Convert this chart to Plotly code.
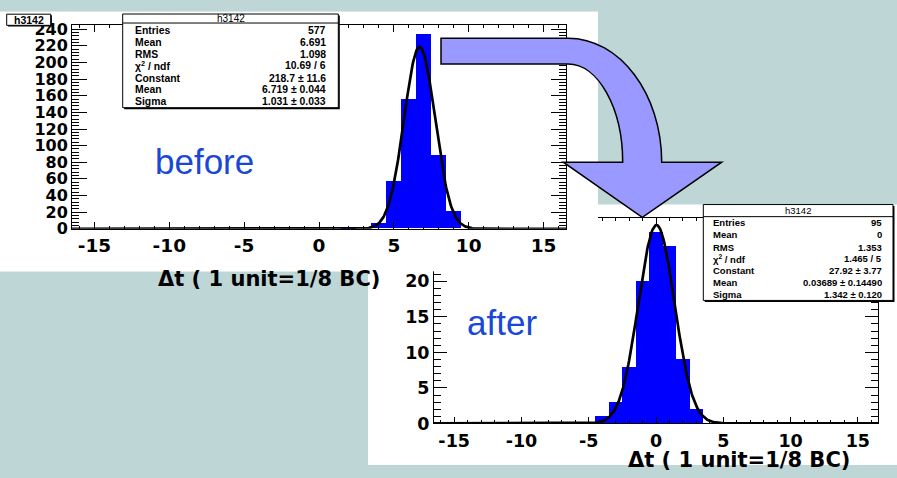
import numpy as np
import plotly.graph_objects as go

# ---------------- data ----------------
before_bins = [2, 4, 5, 6, 7, 8, 9]
before_counts = [2, 6, 57, 156, 234, 88, 21]
after_bins = [-4, -3, -2, -1, 0, 1, 2, 3]
after_counts = [1, 3, 8, 20, 27, 25, 9, 2]

# Gaussian fit parameters (Constant, Mean, Sigma) from the stats boxes
before_fit = [218.7, 6.719, 1.031]
after_fit = [27.92, 0.03689, 1.342]

x_range = [-16.5, 16.5]
x_tick_vals = [-15, -10, -5, 0, 5, 10, 15]
x_tick_text = ["-15", "-10", "-5", "0", "5", "10", "15"]
before_y_tick_step = 20
after_y_tick_step = 5

stat_labels = ["Entries", "Mean", "RMS", "χ<sup>2</sup> / ndf", "Constant", "Mean", "Sigma"]
before_stat_values = ["577", "6.691", "1.098", "10.69 / 6", "218.7 ± 11.6", "6.719 ± 0.044", "1.031 ± 0.033"]
after_stat_values = ["95", "0", "1.353", "1.465 / 5", "27.92 ± 3.77", "0.03689 ± 0.14490", "1.342 ± 0.120"]
hist_name = "h3142"
axis_title = "Δt ( 1 unit=1/8 BC)"

# ---------------- layout helpers ----------------
W, H = 897, 478
TEAL = "#bed6d6"
BLUE_TXT = "#1a48d6"
ARROW = "#9999ff"


def X(p):
    return p / W


def Y(p):
    return 1 - p / H


def gauss(x, c, m, s):
    return c * np.exp(-0.5 * ((x - m) / s) ** 2)


xs = np.linspace(x_range[0], x_range[1], 661)

fig = go.Figure()
# bottom ("after") histogram -> x/y (drawn first, lowest)
fig.add_trace(go.Bar(x=after_bins, y=after_counts, width=1, marker=dict(color="#0000ff", line=dict(width=0)),
                     xaxis="x", yaxis="y", showlegend=False, hoverinfo="skip"))
fig.add_trace(go.Scatter(x=xs, y=gauss(xs, *after_fit), mode="lines", line=dict(color="black", width=2.7),
                         xaxis="x", yaxis="y", showlegend=False, hoverinfo="skip"))
# white cover of the top picture -> x2/y2 (hides part of the bottom frame)
fig.add_trace(go.Scatter(x=[], y=[], mode="markers", xaxis="x2", yaxis="y2", showlegend=False, hoverinfo="skip"))
# top ("before") histogram -> x3/y3 (drawn last)
fig.add_trace(go.Bar(x=before_bins, y=before_counts, width=1, marker=dict(color="#0000ff", line=dict(width=0)),
                     xaxis="x3", yaxis="y3", showlegend=False, hoverinfo="skip"))
fig.add_trace(go.Scatter(x=xs, y=gauss(xs, *before_fit), mode="lines", line=dict(color="black", width=2.7),
                         xaxis="x3", yaxis="y3", showlegend=False, hoverinfo="skip"))


def axis(domain, rng, ticklen, fsize, anchor, dtick=None, mdtick=1, standoff=None):
    d = dict(domain=domain, range=rng, ticks="inside", ticklen=ticklen,
             tickwidth=1, tickcolor="black", showline=True, linecolor="black", linewidth=1,
             mirror="ticks", showgrid=False, zeroline=False, anchor=anchor, fixedrange=True,
             tickfont=dict(family="DejaVu Sans", size=fsize, color="black", weight="bold"),
             minor=dict(tickmode="linear", tick0=0, dtick=mdtick, ticks="inside", ticklen=ticklen / 2,
                        tickcolor="black", tickwidth=1, showgrid=False))
    if dtick is None:
        d.update(tickmode="array", tickvals=x_tick_vals, ticktext=x_tick_text)
    else:
        d.update(tickmode="linear", tick0=0, dtick=dtick)
    if standoff is not None:
        d.update(ticklabelstandoff=standoff)
    return d


blank = dict(showline=False, showticklabels=False, ticks="", showgrid=False, zeroline=False, fixedrange=True,
             range=[0, 1])

fig.update_layout(
    xaxis=axis([X(434), X(878)], x_range, 6.4, 17.5, "y", standoff=2),
    yaxis=axis([Y(432), Y(220)], [0, 28.9], 13.3, 17.5, "x", dtick=after_y_tick_step, mdtick=1),
    xaxis2=dict(domain=[X(0), X(598)], anchor="y2", **blank),
    yaxis2=dict(domain=[Y(275), Y(7)], anchor="x2", **blank),
    xaxis3=axis([X(72), X(566)], x_range, 6.3, 18.5, "y3"),
    yaxis3=axis([Y(231), Y(21)], [0, 244.7], 14.8, 16, "x3", dtick=before_y_tick_step, mdtick=4),
)

shapes = []
ann = []

# panels
shapes.append(dict(type="rect", xref="paper", yref="paper", x0=X(0), x1=X(598), y0=Y(275), y1=Y(7),
                   fillcolor="white", line=dict(width=0), layer="below"))
shapes.append(dict(type="rect", xref="paper", yref="paper", x0=X(368), x1=X(897), y0=Y(475), y1=Y(206),
                   fillcolor="white", line=dict(width=0), layer="below"))


def box(x0, y0, x1, y1, shadow=1.5):
    shapes.append(dict(type="rect", xref="paper", yref="paper", x0=X(x0 + shadow), x1=X(x1 + shadow),
                       y0=Y(y1 + shadow), y1=Y(y0 + shadow), fillcolor="black", line=dict(width=0), layer="above"))
    shapes.append(dict(type="rect", xref="paper", yref="paper", x0=X(x0), x1=X(x1), y0=Y(y1), y1=Y(y0),
                       fillcolor="white", line=dict(color="black", width=1), layer="above"))


def text(s, x, y, size, anchor="left", family="Liberation Sans", color="black", weight="bold"):
    ann.append(dict(text=s, x=X(x), y=Y(y), xref="paper", yref="paper", showarrow=False,
                    xanchor=anchor, yanchor="middle",
                    font=dict(family=family, size=size, color=color, weight=weight)))


# title box of top histogram
box(6.7, 9.5, 50.7, 21, shadow=1.2)
text(hist_name, 28.7, 15.3, 10.5, anchor="center")

# stats box top
box(122.7, 9.3, 338.3, 106)
shapes.append(dict(type="line", xref="paper", yref="paper", x0=X(122.7), x1=X(338.3), y0=Y(18.6), y1=Y(18.6),
                   line=dict(color="black", width=1), layer="above"))
text(hist_name, 230.5, 13.8, 10, anchor="center", weight="normal")
top_rows = [26.7, 38.7, 51, 62.3, 76, 87.3, 99.3]
for lab, val, yy in zip(stat_labels, before_stat_values, top_rows):
    text(lab, 132.5, yy, 10.4)
    text(val, 327.5, yy, 10.4, anchor="right")

# stats box bottom
box(703.3, 206, 893, 305)
shapes.append(dict(type="line", xref="paper", yref="paper", x0=X(703.3), x1=X(893), y0=Y(218.5), y1=Y(218.5),
                   line=dict(color="black", width=1), layer="above"))
text(hist_name, 798, 212.5, 9.5, anchor="center", weight="normal")
bot_rows = [225, 236.8, 250, 261.8, 274, 286, 298.5]
for lab, val, yy in zip(stat_labels, after_stat_values, bot_rows):
    text(lab, 710.7, yy, 9.5)
    text(val, 883.5, yy, 9.5, anchor="right")

# axis titles
text(axis_title, 268.5, 283, 21, anchor="center", family="DejaVu Sans")
text(axis_title, 738.5, 470, 21, anchor="center", family="DejaVu Sans")

# before / after labels
text("before", 204, 161.5, 35, anchor="center", color=BLUE_TXT, weight="normal")
text("after", 502.5, 328, 35, anchor="center", color=BLUE_TXT, weight="normal")

# curved arrow (pixel geometry -> paper)
k = 0.5523
L, T, B, S = 441, 34.3, 61, 568
cy = 162.3
ox, ix = 661.7, 622.7
hr, hl, tipx, tipy = 721.7, 563.3, 642.3, 219.3
pts = [
    ("M", [(L, T)]),
    ("L", [(S, T)]),
    ("C", [(S + k * (ox - S), T), (ox, cy - k * (cy - T)), (ox, cy)]),
    ("L", [(hr, cy)]),
    ("L", [(tipx, tipy)]),
    ("L", [(hl, cy)]),
    ("L", [(ix, cy)]),
    ("C", [(ix, cy - k * (cy - B)), (S + k * (ix - S), B), (S, B)]),
    ("L", [(L, B)]),
]
path = ""
for cmd, pl in pts:
    path += cmd + " " + " ".join(f"{X(a):.5f},{Y(b):.5f}" for a, b in pl) + " "
path += "Z"
shapes.append(dict(type="path", xref="paper", yref="paper", path=path, fillcolor=ARROW,
                   line=dict(color="black", width=1.5), layer="above"))

fig.update_layout(
    width=W, height=H, autosize=False,
    margin=dict(l=0, r=0, t=0, b=0, pad=0),
    paper_bgcolor=TEAL, plot_bgcolor="white",
    bargap=0, barmode="overlay", showlegend=False,
    shapes=shapes, annotations=ann,
)

fig.write_html("out.html", config={"displayModeBar": False})
